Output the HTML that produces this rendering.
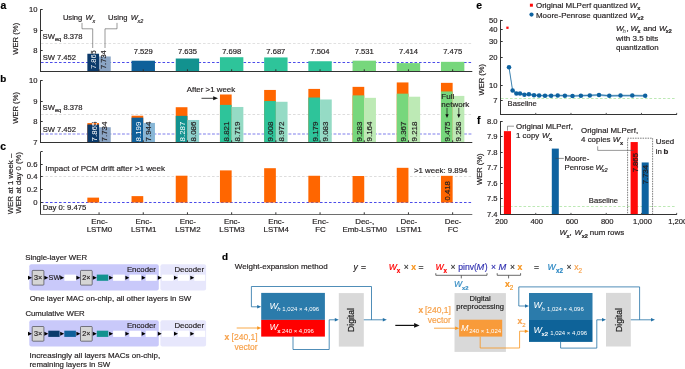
<!DOCTYPE html>
<html><head><meta charset="utf-8"><style>
html,body{margin:0;padding:0;background:#fff;}
svg{display:block;font-family:"Liberation Sans",sans-serif;will-change:transform;}
</style></head><body>
<svg width="685" height="369" viewBox="0 0 685 369">
<rect width="685" height="369" fill="#fff"/>
<text x="0.50" y="8.90" font-size="10.4" fill="#000" font-weight="bold" stroke="#000" stroke-width="0.18">a</text>
<line x1="41.00" y1="43.50" x2="472.30" y2="43.50" stroke="#d9d9d9" stroke-width="0.8" stroke-dasharray="2.6 1.9"/>
<line x1="41.00" y1="62.50" x2="472.30" y2="62.50" stroke="#3838e6" stroke-width="0.9" stroke-dasharray="2.6 1.9"/>
<rect x="87.35" y="53.75" width="11.70" height="17.75" fill="#0b3a6b"/>
<rect x="99.05" y="56.47" width="11.70" height="15.03" fill="#8ba5c5"/>
<rect x="131.55" y="60.72" width="23.40" height="10.78" fill="#0f609a"/>
<text x="143.25" y="54.30" font-size="7.6" fill="#231f20" text-anchor="middle" stroke="#231f20" stroke-width="0.18">7.529</text>
<rect x="175.75" y="58.52" width="23.40" height="12.98" fill="#12928f"/>
<text x="187.45" y="54.30" font-size="7.6" fill="#231f20" text-anchor="middle" stroke="#231f20" stroke-width="0.18">7.635</text>
<rect x="219.95" y="57.22" width="23.40" height="14.28" fill="#2ec49a"/>
<text x="231.65" y="54.30" font-size="7.6" fill="#231f20" text-anchor="middle" stroke="#231f20" stroke-width="0.18">7.698</text>
<rect x="264.15" y="57.44" width="23.40" height="14.06" fill="#2ec49a"/>
<text x="275.85" y="54.30" font-size="7.6" fill="#231f20" text-anchor="middle" stroke="#231f20" stroke-width="0.18">7.687</text>
<rect x="308.35" y="61.24" width="23.40" height="10.26" fill="#2ec49a"/>
<text x="320.05" y="54.30" font-size="7.6" fill="#231f20" text-anchor="middle" stroke="#231f20" stroke-width="0.18">7.504</text>
<rect x="352.55" y="60.68" width="23.40" height="10.82" fill="#77d77c"/>
<text x="364.25" y="54.30" font-size="7.6" fill="#231f20" text-anchor="middle" stroke="#231f20" stroke-width="0.18">7.531</text>
<rect x="396.75" y="63.11" width="23.40" height="8.39" fill="#77d77c"/>
<text x="408.45" y="54.30" font-size="7.6" fill="#231f20" text-anchor="middle" stroke="#231f20" stroke-width="0.18">7.414</text>
<rect x="440.95" y="61.84" width="23.40" height="9.66" fill="#77d77c"/>
<text x="452.65" y="54.30" font-size="7.6" fill="#231f20" text-anchor="middle" stroke="#231f20" stroke-width="0.18">7.475</text>
<clipPath id="c1"><rect x="87.35" y="53.75" width="11.70" height="17.75"/></clipPath>
<clipPath id="c1o"><rect x="82.35" y="23.75" width="21.70" height="30"/></clipPath>
<g clip-path="url(#c1o)">
<text x="95.65" y="69.10" font-size="7.55" fill="#231f20" transform="rotate(-90 95.65 69.10)" stroke="#231f20" stroke-width="0.18">7.865</text>
</g>
<g clip-path="url(#c1)">
<text x="95.65" y="69.10" font-size="7.55" fill="#fff" transform="rotate(-90 95.65 69.10)">7.865</text>
</g>
<text x="106.10" y="69.10" font-size="7.55" fill="#231f20" transform="rotate(-90 106.10 69.10)" stroke="#231f20" stroke-width="0.18">7.734</text>
<line x1="40.50" y1="9.20" x2="40.50" y2="72.00" stroke="#333333" stroke-width="1"/>
<line x1="40.00" y1="71.50" x2="472.30" y2="71.50" stroke="#333333" stroke-width="1"/>
<line x1="40.50" y1="9.50" x2="42.70" y2="9.50" stroke="#333333" stroke-width="1"/>
<text x="37.50" y="12.10" font-size="7.6" fill="#231f20" text-anchor="end" stroke="#231f20" stroke-width="0.18">10</text>
<line x1="40.50" y1="30.50" x2="42.70" y2="30.50" stroke="#333333" stroke-width="1"/>
<text x="37.50" y="33.10" font-size="7.6" fill="#231f20" text-anchor="end" stroke="#231f20" stroke-width="0.18">9</text>
<line x1="40.50" y1="50.50" x2="42.70" y2="50.50" stroke="#333333" stroke-width="1"/>
<text x="37.50" y="53.10" font-size="7.6" fill="#231f20" text-anchor="end" stroke="#231f20" stroke-width="0.18">8</text>
<line x1="99.05" y1="71.50" x2="99.05" y2="69.30" stroke="#333333" stroke-width="1"/>
<line x1="143.25" y1="71.50" x2="143.25" y2="69.30" stroke="#333333" stroke-width="1"/>
<line x1="187.45" y1="71.50" x2="187.45" y2="69.30" stroke="#333333" stroke-width="1"/>
<line x1="231.65" y1="71.50" x2="231.65" y2="69.30" stroke="#333333" stroke-width="1"/>
<line x1="275.85" y1="71.50" x2="275.85" y2="69.30" stroke="#333333" stroke-width="1"/>
<line x1="320.05" y1="71.50" x2="320.05" y2="69.30" stroke="#333333" stroke-width="1"/>
<line x1="364.25" y1="71.50" x2="364.25" y2="69.30" stroke="#333333" stroke-width="1"/>
<line x1="408.45" y1="71.50" x2="408.45" y2="69.30" stroke="#333333" stroke-width="1"/>
<line x1="452.65" y1="71.50" x2="452.65" y2="69.30" stroke="#333333" stroke-width="1"/>
<text x="18.20" y="38.80" font-size="7.7" fill="#231f20" text-anchor="middle" transform="rotate(-90 18.20 38.80)" stroke="#231f20" stroke-width="0.18">WER (%)</text>
<text x="42.60" y="39.20" font-size="7.6" fill="#231f20" stroke="#231f20" stroke-width="0.18">SW</text>
<text x="55.00" y="41.00" font-size="5.6" fill="#231f20" stroke="#231f20" stroke-width="0.18">eq</text>
<text x="63.50" y="39.20" font-size="7.6" fill="#231f20" stroke="#231f20" stroke-width="0.18">8.378</text>
<text x="42.70" y="59.60" font-size="7.6" fill="#231f20" stroke="#231f20" stroke-width="0.18">SW 7.452</text>
<text x="62.90" y="20.20" font-size="7.6" fill="#231f20" stroke="#231f20" stroke-width="0.18">Using</text>
<text x="85.40" y="20.20" font-size="7.6" fill="#231f20" font-style="italic" stroke="#231f20" stroke-width="0.18">W</text>
<text x="92.50" y="23.10" font-size="5.4" fill="#231f20" font-style="italic" stroke="#231f20" stroke-width="0.18">x</text>
<text x="108.00" y="20.20" font-size="7.6" fill="#231f20" stroke="#231f20" stroke-width="0.18">Using</text>
<text x="130.80" y="20.20" font-size="7.6" fill="#231f20" font-style="italic" stroke="#231f20" stroke-width="0.18">W</text>
<text x="137.60" y="23.10" font-size="5.4" fill="#231f20" font-style="italic" stroke="#231f20" stroke-width="0.18">x2</text>
<polyline points="82.00,22.90 82.00,28.80 92.70,28.80 92.70,48.00" stroke="#555" stroke-width="0.6" fill="none"/>
<polyline points="117.00,22.90 117.00,28.80 105.00,28.80 105.00,48.00" stroke="#555" stroke-width="0.6" fill="none"/>
<text x="0.30" y="82.10" font-size="9.9" fill="#000" font-weight="bold" stroke="#000" stroke-width="0.18">b</text>
<line x1="41.00" y1="114.50" x2="472.30" y2="114.50" stroke="#d9d9d9" stroke-width="0.9" stroke-dasharray="2.6 1.9"/>
<line x1="41.00" y1="134.00" x2="472.30" y2="134.00" stroke="#a9a9f2" stroke-width="1.5" stroke-dasharray="2.9 1.6"/>
<rect x="87.35" y="123.09" width="11.70" height="19.41" fill="#ff6600"/>
<rect x="87.35" y="124.52" width="11.70" height="17.98" fill="#0b3a6b"/>
<rect x="99.05" y="127.22" width="11.70" height="15.28" fill="#8ba5c5"/>
<rect x="131.55" y="115.73" width="11.70" height="26.77" fill="#ff6600"/>
<rect x="131.55" y="117.66" width="11.70" height="24.84" fill="#0f609a"/>
<rect x="143.25" y="122.90" width="11.70" height="19.60" fill="#88b7d7"/>
<rect x="175.75" y="107.22" width="11.70" height="35.28" fill="#ff6600"/>
<rect x="175.75" y="115.85" width="11.70" height="26.65" fill="#12928f"/>
<rect x="187.45" y="119.98" width="11.70" height="22.52" fill="#8ed1cd"/>
<rect x="219.95" y="94.50" width="11.70" height="48.00" fill="#ff6600"/>
<rect x="219.95" y="104.88" width="11.70" height="37.62" fill="#2ec49a"/>
<rect x="231.65" y="106.97" width="11.70" height="35.53" fill="#95dbc5"/>
<rect x="264.15" y="89.94" width="11.70" height="52.56" fill="#ff6600"/>
<rect x="264.15" y="101.04" width="11.70" height="41.46" fill="#2ec49a"/>
<rect x="275.85" y="101.78" width="11.70" height="40.72" fill="#95dbc5"/>
<rect x="308.35" y="88.91" width="11.70" height="53.59" fill="#ff6600"/>
<rect x="308.35" y="97.52" width="11.70" height="44.98" fill="#2ec49a"/>
<rect x="320.05" y="99.49" width="11.70" height="43.01" fill="#95dbc5"/>
<rect x="352.55" y="86.86" width="11.70" height="55.64" fill="#ff6600"/>
<rect x="352.55" y="95.38" width="11.70" height="47.12" fill="#77d77c"/>
<rect x="364.25" y="97.83" width="11.70" height="44.67" fill="#bdeab5"/>
<rect x="396.75" y="82.44" width="11.70" height="60.06" fill="#ff6600"/>
<rect x="396.75" y="93.66" width="11.70" height="48.84" fill="#77d77c"/>
<rect x="408.45" y="96.72" width="11.70" height="45.78" fill="#bdeab5"/>
<rect x="440.95" y="82.85" width="11.70" height="59.65" fill="#ff6600"/>
<rect x="440.95" y="91.44" width="11.70" height="51.06" fill="#77d77c"/>
<rect x="452.65" y="95.90" width="11.70" height="46.60" fill="#bdeab5"/>
<clipPath id="c2"><rect x="87.35" y="123.09" width="11.70" height="19.41"/></clipPath>
<clipPath id="c2o"><rect x="82.35" y="93.09" width="21.70" height="30"/></clipPath>
<g clip-path="url(#c2o)">
<text x="96.55" y="141.50" font-size="8.0" fill="#231f20" transform="rotate(-90 96.55 141.50)" stroke="#231f20" stroke-width="0.18">7.865</text>
</g>
<g clip-path="url(#c2)">
<text x="96.55" y="141.50" font-size="8.0" fill="#fff" transform="rotate(-90 96.55 141.50)">7.865</text>
</g>
<text x="107.15" y="141.50" font-size="8.0" fill="#231f20" transform="rotate(-90 107.15 141.50)" stroke="#231f20" stroke-width="0.18">7.734</text>
<clipPath id="c3"><rect x="131.55" y="115.73" width="11.70" height="26.77"/></clipPath>
<clipPath id="c3o"><rect x="126.55" y="85.73" width="21.70" height="30"/></clipPath>
<g clip-path="url(#c3o)">
<text x="140.75" y="141.50" font-size="8.0" fill="#231f20" transform="rotate(-90 140.75 141.50)" stroke="#231f20" stroke-width="0.18">8.199</text>
</g>
<g clip-path="url(#c3)">
<text x="140.75" y="141.50" font-size="8.0" fill="#fff" transform="rotate(-90 140.75 141.50)">8.199</text>
</g>
<text x="151.35" y="141.50" font-size="8.0" fill="#231f20" transform="rotate(-90 151.35 141.50)" stroke="#231f20" stroke-width="0.18">7.944</text>
<clipPath id="c4"><rect x="175.75" y="107.22" width="11.70" height="35.28"/></clipPath>
<clipPath id="c4o"><rect x="170.75" y="77.22" width="21.70" height="30"/></clipPath>
<g clip-path="url(#c4o)">
<text x="184.95" y="141.50" font-size="8.0" fill="#231f20" transform="rotate(-90 184.95 141.50)" stroke="#231f20" stroke-width="0.18">8.287</text>
</g>
<g clip-path="url(#c4)">
<text x="184.95" y="141.50" font-size="8.0" fill="#fff" transform="rotate(-90 184.95 141.50)">8.287</text>
</g>
<text x="195.55" y="141.50" font-size="8.0" fill="#231f20" transform="rotate(-90 195.55 141.50)" stroke="#231f20" stroke-width="0.18">8.086</text>
<text x="229.15" y="141.50" font-size="8.0" fill="#231f20" transform="rotate(-90 229.15 141.50)" stroke="#231f20" stroke-width="0.18">8.821</text>
<text x="239.75" y="141.50" font-size="8.0" fill="#231f20" transform="rotate(-90 239.75 141.50)" stroke="#231f20" stroke-width="0.18">8.719</text>
<text x="273.35" y="141.50" font-size="8.0" fill="#231f20" transform="rotate(-90 273.35 141.50)" stroke="#231f20" stroke-width="0.18">9.008</text>
<text x="283.95" y="141.50" font-size="8.0" fill="#231f20" transform="rotate(-90 283.95 141.50)" stroke="#231f20" stroke-width="0.18">8.972</text>
<text x="317.55" y="141.50" font-size="8.0" fill="#231f20" transform="rotate(-90 317.55 141.50)" stroke="#231f20" stroke-width="0.18">9.179</text>
<text x="328.15" y="141.50" font-size="8.0" fill="#231f20" transform="rotate(-90 328.15 141.50)" stroke="#231f20" stroke-width="0.18">9.083</text>
<text x="361.75" y="141.50" font-size="8.0" fill="#231f20" transform="rotate(-90 361.75 141.50)" stroke="#231f20" stroke-width="0.18">9.283</text>
<text x="372.35" y="141.50" font-size="8.0" fill="#231f20" transform="rotate(-90 372.35 141.50)" stroke="#231f20" stroke-width="0.18">9.164</text>
<text x="405.95" y="141.50" font-size="8.0" fill="#231f20" transform="rotate(-90 405.95 141.50)" stroke="#231f20" stroke-width="0.18">9.367</text>
<text x="416.55" y="141.50" font-size="8.0" fill="#231f20" transform="rotate(-90 416.55 141.50)" stroke="#231f20" stroke-width="0.18">9.218</text>
<text x="450.15" y="141.50" font-size="8.0" fill="#231f20" transform="rotate(-90 450.15 141.50)" stroke="#231f20" stroke-width="0.18">9.475</text>
<text x="460.75" y="141.50" font-size="8.0" fill="#231f20" transform="rotate(-90 460.75 141.50)" stroke="#231f20" stroke-width="0.18">9.258</text>
<line x1="40.50" y1="80.20" x2="40.50" y2="143.00" stroke="#333333" stroke-width="1"/>
<line x1="40.00" y1="142.50" x2="472.30" y2="142.50" stroke="#333333" stroke-width="1"/>
<line x1="40.50" y1="80.50" x2="42.70" y2="80.50" stroke="#333333" stroke-width="1"/>
<text x="37.50" y="83.10" font-size="7.6" fill="#231f20" text-anchor="end" stroke="#231f20" stroke-width="0.18">10</text>
<line x1="40.50" y1="101.50" x2="42.70" y2="101.50" stroke="#333333" stroke-width="1"/>
<text x="37.50" y="104.10" font-size="7.6" fill="#231f20" text-anchor="end" stroke="#231f20" stroke-width="0.18">9</text>
<line x1="40.50" y1="121.50" x2="42.70" y2="121.50" stroke="#333333" stroke-width="1"/>
<text x="37.50" y="124.10" font-size="7.6" fill="#231f20" text-anchor="end" stroke="#231f20" stroke-width="0.18">8</text>
<line x1="40.50" y1="142.50" x2="42.70" y2="142.50" stroke="#333333" stroke-width="1"/>
<text x="37.50" y="145.10" font-size="7.6" fill="#231f20" text-anchor="end" stroke="#231f20" stroke-width="0.18">7</text>
<line x1="99.05" y1="142.50" x2="99.05" y2="140.30" stroke="#333333" stroke-width="1"/>
<line x1="143.25" y1="142.50" x2="143.25" y2="140.30" stroke="#333333" stroke-width="1"/>
<line x1="187.45" y1="142.50" x2="187.45" y2="140.30" stroke="#333333" stroke-width="1"/>
<line x1="231.65" y1="142.50" x2="231.65" y2="140.30" stroke="#333333" stroke-width="1"/>
<line x1="275.85" y1="142.50" x2="275.85" y2="140.30" stroke="#333333" stroke-width="1"/>
<line x1="320.05" y1="142.50" x2="320.05" y2="140.30" stroke="#333333" stroke-width="1"/>
<line x1="364.25" y1="142.50" x2="364.25" y2="140.30" stroke="#333333" stroke-width="1"/>
<line x1="408.45" y1="142.50" x2="408.45" y2="140.30" stroke="#333333" stroke-width="1"/>
<line x1="452.65" y1="142.50" x2="452.65" y2="140.30" stroke="#333333" stroke-width="1"/>
<text x="17.90" y="107.90" font-size="7.6" fill="#231f20" text-anchor="middle" transform="rotate(-90 17.90 107.90)" stroke="#231f20" stroke-width="0.18">WER (%)</text>
<text x="42.60" y="110.10" font-size="7.6" fill="#231f20" stroke="#231f20" stroke-width="0.18">SW</text>
<text x="55.00" y="111.90" font-size="5.6" fill="#231f20" stroke="#231f20" stroke-width="0.18">eq</text>
<text x="63.50" y="110.10" font-size="7.6" fill="#231f20" stroke="#231f20" stroke-width="0.18">8.378</text>
<text x="42.70" y="131.60" font-size="7.6" fill="#231f20" stroke="#231f20" stroke-width="0.18">SW 7.452</text>
<text x="186.70" y="91.60" font-size="7.9" fill="#231f20" stroke="#231f20" stroke-width="0.18">After &gt;1 week</text>
<line x1="201.50" y1="98.30" x2="214.50" y2="98.30" stroke="#111" stroke-width="0.8"/>
<path d="M218,98.3 L213.2,96.3 L213.2,100.3 Z" fill="#111"/>
<text x="441.30" y="98.60" font-size="8.0" fill="#231f20" stroke="#231f20" stroke-width="0.18">Full</text>
<text x="441.30" y="106.50" font-size="8.0" fill="#231f20" stroke="#231f20" stroke-width="0.18">network</text>
<line x1="447.00" y1="107.80" x2="447.00" y2="115.00" stroke="#111" stroke-width="0.7"/>
<path d="M447,118 L445.3,114.3 L448.7,114.3 Z" fill="#111"/>
<line x1="458.80" y1="107.80" x2="458.80" y2="115.00" stroke="#111" stroke-width="0.7"/>
<path d="M458.8,118 L457.1,114.3 L460.5,114.3 Z" fill="#111"/>
<text x="0.30" y="149.80" font-size="10.4" fill="#000" font-weight="bold" stroke="#000" stroke-width="0.18">c</text>
<line x1="41.00" y1="176.50" x2="472.30" y2="176.50" stroke="#d9d9d9" stroke-width="0.9" stroke-dasharray="2.6 1.9"/>
<line x1="41.00" y1="202.50" x2="472.30" y2="202.50" stroke="#3838e6" stroke-width="0.9" stroke-dasharray="2.6 1.9"/>
<rect x="87.35" y="197.62" width="11.70" height="4.88" fill="#ff6600"/>
<rect x="131.55" y="196.12" width="11.70" height="6.38" fill="#ff6600"/>
<rect x="175.75" y="175.71" width="11.70" height="26.79" fill="#ff6600"/>
<rect x="219.95" y="170.39" width="11.70" height="32.11" fill="#ff6600"/>
<rect x="264.15" y="168.20" width="11.70" height="34.30" fill="#ff6600"/>
<rect x="308.35" y="175.77" width="11.70" height="26.73" fill="#ff6600"/>
<rect x="352.55" y="176.02" width="11.70" height="26.48" fill="#ff6600"/>
<rect x="396.75" y="167.82" width="11.70" height="34.68" fill="#ff6600"/>
<rect x="440.95" y="175.83" width="11.70" height="26.67" fill="#ff6600"/>
<text x="449.75" y="200.40" font-size="7.7" fill="#231f20" transform="rotate(-90 449.75 200.40)" stroke="#231f20" stroke-width="0.18">0.418</text>
<line x1="40.50" y1="151.90" x2="40.50" y2="215.00" stroke="#333333" stroke-width="1"/>
<line x1="40.00" y1="214.50" x2="472.30" y2="214.50" stroke="#6e6e6e" stroke-width="1.1"/>
<line x1="40.50" y1="151.50" x2="42.70" y2="151.50" stroke="#333333" stroke-width="1"/>
<line x1="40.50" y1="164.50" x2="42.70" y2="164.50" stroke="#333333" stroke-width="1"/>
<line x1="40.50" y1="176.50" x2="42.70" y2="176.50" stroke="#333333" stroke-width="1"/>
<line x1="40.50" y1="189.50" x2="42.70" y2="189.50" stroke="#333333" stroke-width="1"/>
<line x1="40.50" y1="202.50" x2="42.70" y2="202.50" stroke="#333333" stroke-width="1"/>
<text x="37.50" y="167.10" font-size="7.7" fill="#231f20" text-anchor="end" stroke="#231f20" stroke-width="0.18">0.6</text>
<text x="37.50" y="179.10" font-size="7.7" fill="#231f20" text-anchor="end" stroke="#231f20" stroke-width="0.18">0.4</text>
<text x="37.50" y="192.10" font-size="7.7" fill="#231f20" text-anchor="end" stroke="#231f20" stroke-width="0.18">0.2</text>
<text x="37.50" y="205.10" font-size="7.7" fill="#231f20" text-anchor="end" stroke="#231f20" stroke-width="0.18">0</text>
<line x1="99.05" y1="214.50" x2="99.05" y2="212.30" stroke="#333333" stroke-width="1"/>
<line x1="143.25" y1="214.50" x2="143.25" y2="212.30" stroke="#333333" stroke-width="1"/>
<line x1="187.45" y1="214.50" x2="187.45" y2="212.30" stroke="#333333" stroke-width="1"/>
<line x1="231.65" y1="214.50" x2="231.65" y2="212.30" stroke="#333333" stroke-width="1"/>
<line x1="275.85" y1="214.50" x2="275.85" y2="212.30" stroke="#333333" stroke-width="1"/>
<line x1="320.05" y1="214.50" x2="320.05" y2="212.30" stroke="#333333" stroke-width="1"/>
<line x1="364.25" y1="214.50" x2="364.25" y2="212.30" stroke="#333333" stroke-width="1"/>
<line x1="408.45" y1="214.50" x2="408.45" y2="212.30" stroke="#333333" stroke-width="1"/>
<line x1="452.65" y1="214.50" x2="452.65" y2="212.30" stroke="#333333" stroke-width="1"/>
<text x="12.60" y="184.00" font-size="7.85" fill="#231f20" text-anchor="middle" transform="rotate(-90 12.60 184.00)" stroke="#231f20" stroke-width="0.18">WER at 1 week –</text>
<text x="21.20" y="182.80" font-size="7.7" fill="#231f20" text-anchor="middle" transform="rotate(-90 21.20 182.80)" stroke="#231f20" stroke-width="0.18">WER at day 0 (%)</text>
<text x="45.30" y="170.90" font-size="8.05" fill="#231f20" stroke="#231f20" stroke-width="0.18">Impact of PCM drift after &gt;1 week</text>
<text x="42.70" y="210.20" font-size="7.7" fill="#231f20" stroke="#231f20" stroke-width="0.18">Day 0: 9.475</text>
<text x="414.00" y="173.00" font-size="7.85" fill="#231f20" stroke="#231f20" stroke-width="0.18">&gt;1 week: 9.894</text>
<text x="99.45" y="224.20" font-size="7.9" fill="#231f20" text-anchor="middle" stroke="#231f20" stroke-width="0.18">Enc-</text>
<text x="99.45" y="232.00" font-size="7.9" fill="#231f20" text-anchor="middle" stroke="#231f20" stroke-width="0.18">LSTM0</text>
<text x="143.65" y="224.20" font-size="7.9" fill="#231f20" text-anchor="middle" stroke="#231f20" stroke-width="0.18">Enc-</text>
<text x="143.65" y="232.00" font-size="7.9" fill="#231f20" text-anchor="middle" stroke="#231f20" stroke-width="0.18">LSTM1</text>
<text x="187.85" y="224.20" font-size="7.9" fill="#231f20" text-anchor="middle" stroke="#231f20" stroke-width="0.18">Enc-</text>
<text x="187.85" y="232.00" font-size="7.9" fill="#231f20" text-anchor="middle" stroke="#231f20" stroke-width="0.18">LSTM2</text>
<text x="232.05" y="224.20" font-size="7.9" fill="#231f20" text-anchor="middle" stroke="#231f20" stroke-width="0.18">Enc-</text>
<text x="232.05" y="232.00" font-size="7.9" fill="#231f20" text-anchor="middle" stroke="#231f20" stroke-width="0.18">LSTM3</text>
<text x="276.25" y="224.20" font-size="7.9" fill="#231f20" text-anchor="middle" stroke="#231f20" stroke-width="0.18">Enc-</text>
<text x="276.25" y="232.00" font-size="7.9" fill="#231f20" text-anchor="middle" stroke="#231f20" stroke-width="0.18">LSTM4</text>
<text x="320.45" y="224.20" font-size="7.9" fill="#231f20" text-anchor="middle" stroke="#231f20" stroke-width="0.18">Enc-</text>
<text x="320.45" y="232.00" font-size="7.9" fill="#231f20" text-anchor="middle" stroke="#231f20" stroke-width="0.18">FC</text>
<text x="364.65" y="224.20" font-size="7.9" fill="#231f20" text-anchor="middle" stroke="#231f20" stroke-width="0.18">Dec-,</text>
<text x="364.65" y="232.00" font-size="7.9" fill="#231f20" text-anchor="middle" stroke="#231f20" stroke-width="0.18">Emb-LSTM0</text>
<text x="408.85" y="224.20" font-size="7.9" fill="#231f20" text-anchor="middle" stroke="#231f20" stroke-width="0.18">Dec-</text>
<text x="408.85" y="232.00" font-size="7.9" fill="#231f20" text-anchor="middle" stroke="#231f20" stroke-width="0.18">LSTM1</text>
<text x="453.05" y="224.20" font-size="7.9" fill="#231f20" text-anchor="middle" stroke="#231f20" stroke-width="0.18">Dec-</text>
<text x="453.05" y="232.00" font-size="7.9" fill="#231f20" text-anchor="middle" stroke="#231f20" stroke-width="0.18">FC</text>
<text x="476.20" y="8.70" font-size="10.4" fill="#000" font-weight="bold" stroke="#000" stroke-width="0.18">e</text>
<line x1="501.00" y1="98.50" x2="676.50" y2="98.50" stroke="#b5e6ad" stroke-width="0.9" stroke-dasharray="2.6 1.9"/>
<line x1="500.50" y1="19.80" x2="500.50" y2="115.00" stroke="#333333" stroke-width="1"/>
<line x1="500.00" y1="114.50" x2="677.00" y2="114.50" stroke="#333333" stroke-width="1"/>
<line x1="500.50" y1="20.50" x2="502.70" y2="20.50" stroke="#333333" stroke-width="1"/>
<text x="497.50" y="23.10" font-size="7.6" fill="#231f20" text-anchor="end" stroke="#231f20" stroke-width="0.18">50</text>
<line x1="500.50" y1="29.50" x2="502.70" y2="29.50" stroke="#333333" stroke-width="1"/>
<text x="497.50" y="32.10" font-size="7.6" fill="#231f20" text-anchor="end" stroke="#231f20" stroke-width="0.18">40</text>
<line x1="500.50" y1="41.50" x2="502.70" y2="41.50" stroke="#333333" stroke-width="1"/>
<text x="497.50" y="44.10" font-size="7.6" fill="#231f20" text-anchor="end" stroke="#231f20" stroke-width="0.18">30</text>
<line x1="500.50" y1="57.50" x2="502.70" y2="57.50" stroke="#333333" stroke-width="1"/>
<text x="497.50" y="60.10" font-size="7.6" fill="#231f20" text-anchor="end" stroke="#231f20" stroke-width="0.18">20</text>
<line x1="500.50" y1="85.50" x2="502.70" y2="85.50" stroke="#333333" stroke-width="1"/>
<text x="497.50" y="88.10" font-size="7.6" fill="#231f20" text-anchor="end" stroke="#231f20" stroke-width="0.18">10</text>
<line x1="500.50" y1="100.50" x2="502.70" y2="100.50" stroke="#333333" stroke-width="1"/>
<text x="497.50" y="103.10" font-size="7.6" fill="#231f20" text-anchor="end" stroke="#231f20" stroke-width="0.18">7</text>
<line x1="535.74" y1="114.50" x2="535.74" y2="112.90" stroke="#555" stroke-width="1"/>
<line x1="570.98" y1="114.50" x2="570.98" y2="112.90" stroke="#555" stroke-width="1"/>
<line x1="606.22" y1="114.50" x2="606.22" y2="112.90" stroke="#555" stroke-width="1"/>
<line x1="641.46" y1="114.50" x2="641.46" y2="112.90" stroke="#555" stroke-width="1"/>
<line x1="676.70" y1="114.50" x2="676.70" y2="112.90" stroke="#555" stroke-width="1"/>
<text x="484.20" y="79.70" font-size="7.6" fill="#231f20" text-anchor="middle" transform="rotate(-90 484.20 79.70)" stroke="#231f20" stroke-width="0.18">WER (%)</text>
<polygon points="509.00,66.20 512.60,89.30 516.40,92.30 520.00,92.30 524.40,93.60 528.90,93.10 534.00,94.10 539.10,94.40 545.00,94.60 551.10,94.60 557.70,94.40 564.90,94.60 572.50,94.90 580.90,94.60 589.80,94.30 599.00,93.80 609.30,94.70 620.50,94.50 632.30,94.50 645.20,94.70 645.20,96.90 632.30,96.70 620.50,96.70 609.30,96.90 599.00,96.00 589.80,96.50 580.90,96.80 572.50,97.10 564.90,96.80 557.70,96.60 551.10,96.80 545.00,96.80 539.10,96.60 534.00,96.30 528.90,95.30 524.40,95.80 520.00,94.50 516.40,94.50 512.60,91.50 509.00,68.40" fill="#a9cbe2"/>
<polyline points="509.00,67.30 512.60,90.40 516.40,93.40 520.00,93.40 524.40,94.70 528.90,94.20 534.00,95.20 539.10,95.50 545.00,95.70 551.10,95.70 557.70,95.50 564.90,95.70 572.50,96.00 580.90,95.70 589.80,95.40 599.00,94.90 609.30,95.80 620.50,95.60 632.30,95.60 645.20,95.80" stroke="#1a6aa0" stroke-width="0.8" fill="none"/>
<circle cx="509.00" cy="67.30" r="2.25" fill="#0d62a0"/>
<circle cx="512.60" cy="90.40" r="2.25" fill="#0d62a0"/>
<circle cx="516.40" cy="93.40" r="2.25" fill="#0d62a0"/>
<circle cx="520.00" cy="93.40" r="2.25" fill="#0d62a0"/>
<circle cx="524.40" cy="94.70" r="2.25" fill="#0d62a0"/>
<circle cx="528.90" cy="94.20" r="2.25" fill="#0d62a0"/>
<circle cx="534.00" cy="95.20" r="2.25" fill="#0d62a0"/>
<circle cx="539.10" cy="95.50" r="2.25" fill="#0d62a0"/>
<circle cx="545.00" cy="95.70" r="2.25" fill="#0d62a0"/>
<circle cx="551.10" cy="95.70" r="2.25" fill="#0d62a0"/>
<circle cx="557.70" cy="95.50" r="2.25" fill="#0d62a0"/>
<circle cx="564.90" cy="95.70" r="2.25" fill="#0d62a0"/>
<circle cx="572.50" cy="96.00" r="2.25" fill="#0d62a0"/>
<circle cx="580.90" cy="95.70" r="2.25" fill="#0d62a0"/>
<circle cx="589.80" cy="95.40" r="2.25" fill="#0d62a0"/>
<circle cx="599.00" cy="94.90" r="2.25" fill="#0d62a0"/>
<circle cx="609.30" cy="95.80" r="2.25" fill="#0d62a0"/>
<circle cx="620.50" cy="95.60" r="2.25" fill="#0d62a0"/>
<circle cx="632.30" cy="95.60" r="2.25" fill="#0d62a0"/>
<circle cx="645.20" cy="95.80" r="2.25" fill="#0d62a0"/>
<rect x="506.30" y="26.60" width="2.30" height="2.30" fill="#ff0a0a"/>
<rect x="529.90" y="3.70" width="3.00" height="3.00" fill="#ff0a0a"/>
<text x="536.00" y="7.75" font-size="7.95" fill="#231f20" stroke="#231f20" stroke-width="0.18">Original MLPerf quantized</text>
<text x="629.80" y="7.75" font-size="7.95" fill="#231f20" font-style="italic" stroke="#231f20" stroke-width="0.18">W</text>
<text x="637.30" y="9.65" font-size="5.6" fill="#231f20" font-weight="bold" stroke="#231f20" stroke-width="0.18">x</text>
<circle cx="531.5" cy="14.6" r="2.1" fill="#0d62a0"/>
<text x="536.00" y="17.60" font-size="7.95" fill="#231f20" stroke="#231f20" stroke-width="0.18">Moore-Penrose quantized</text>
<text x="629.80" y="17.60" font-size="7.95" fill="#231f20" font-style="italic" stroke="#231f20" stroke-width="0.18">W</text>
<text x="637.30" y="19.60" font-size="5.6" fill="#231f20" font-weight="bold" stroke="#231f20" stroke-width="0.18">x2</text>
<text x="616.10" y="31.20" font-size="8" fill="#231f20" font-style="italic" stroke="#231f20" stroke-width="0.18">W</text>
<text x="622.70" y="33.00" font-size="5.6" fill="#777" font-style="italic" stroke="#777" stroke-width="0.18">h</text>
<text x="626.40" y="31.20" font-size="8" fill="#231f20" stroke="#231f20" stroke-width="0.18">,</text>
<text x="630.40" y="31.20" font-size="8" fill="#231f20" font-style="italic" stroke="#231f20" stroke-width="0.18">W</text>
<text x="637.50" y="33.20" font-size="5.4" fill="#231f20" font-weight="bold" stroke="#231f20" stroke-width="0.18">x</text>
<text x="643.20" y="31.20" font-size="8" fill="#231f20" stroke="#231f20" stroke-width="0.18">and</text>
<text x="659.00" y="31.20" font-size="8" fill="#231f20" font-style="italic" stroke="#231f20" stroke-width="0.18">W</text>
<text x="665.70" y="33.20" font-size="5.4" fill="#231f20" font-weight="bold" stroke="#231f20" stroke-width="0.18">x2</text>
<text x="616.10" y="41.20" font-size="8.0" fill="#231f20" stroke="#231f20" stroke-width="0.18">with 3.5 bits</text>
<text x="616.10" y="49.80" font-size="7.9" fill="#231f20" stroke="#231f20" stroke-width="0.18">quantization</text>
<text x="507.60" y="106.20" font-size="7.6" fill="#231f20" stroke="#231f20" stroke-width="0.18">Baseline</text>
<text x="476.90" y="123.50" font-size="10.4" fill="#000" font-weight="bold" stroke="#000" stroke-width="0.18">f</text>
<line x1="501.00" y1="206.50" x2="676.50" y2="206.50" stroke="#b5e6ad" stroke-width="0.9" stroke-dasharray="2.6 1.9"/>
<rect x="503.90" y="131.15" width="7.10" height="83.35" fill="#ff0a0a"/>
<rect x="551.80" y="148.60" width="7.00" height="65.90" fill="#0d62a0"/>
<rect x="630.60" y="142.05" width="7.20" height="72.45" fill="#ff0a0a"/>
<rect x="641.70" y="162.46" width="7.00" height="52.04" fill="#0d62a0"/>
<rect x="627.6" y="138.2" width="25" height="76.3" fill="none" stroke="#222" stroke-width="0.6" stroke-dasharray="1.5 1"/>
<text x="637.95" y="172.30" font-size="7.7" fill="#231f20" transform="rotate(-90 637.95 172.30)" stroke="#231f20" stroke-width="0.18">7.865</text>
<text x="648.35" y="184.20" font-size="7.7" fill="#231f20" transform="rotate(-90 648.35 184.20)" stroke="#231f20" stroke-width="0.18">7.734</text>
<line x1="500.50" y1="121.00" x2="500.50" y2="215.00" stroke="#333333" stroke-width="1"/>
<line x1="500.00" y1="214.50" x2="677.00" y2="214.50" stroke="#333333" stroke-width="1"/>
<line x1="500.50" y1="121.50" x2="502.70" y2="121.50" stroke="#333333" stroke-width="1"/>
<text x="497.50" y="124.10" font-size="7.6" fill="#231f20" text-anchor="end" stroke="#231f20" stroke-width="0.18">8.0</text>
<line x1="500.50" y1="136.50" x2="502.70" y2="136.50" stroke="#333333" stroke-width="1"/>
<text x="497.50" y="139.10" font-size="7.6" fill="#231f20" text-anchor="end" stroke="#231f20" stroke-width="0.18">7.9</text>
<line x1="500.50" y1="152.50" x2="502.70" y2="152.50" stroke="#333333" stroke-width="1"/>
<text x="497.50" y="155.10" font-size="7.6" fill="#231f20" text-anchor="end" stroke="#231f20" stroke-width="0.18">7.8</text>
<line x1="500.50" y1="167.50" x2="502.70" y2="167.50" stroke="#333333" stroke-width="1"/>
<text x="497.50" y="170.10" font-size="7.6" fill="#231f20" text-anchor="end" stroke="#231f20" stroke-width="0.18">7.7</text>
<line x1="500.50" y1="183.50" x2="502.70" y2="183.50" stroke="#333333" stroke-width="1"/>
<text x="497.50" y="186.10" font-size="7.6" fill="#231f20" text-anchor="end" stroke="#231f20" stroke-width="0.18">7.6</text>
<line x1="500.50" y1="198.50" x2="502.70" y2="198.50" stroke="#333333" stroke-width="1"/>
<text x="497.50" y="201.10" font-size="7.6" fill="#231f20" text-anchor="end" stroke="#231f20" stroke-width="0.18">7.5</text>
<line x1="500.50" y1="214.50" x2="502.70" y2="214.50" stroke="#333333" stroke-width="1"/>
<text x="497.50" y="217.10" font-size="7.6" fill="#231f20" text-anchor="end" stroke="#231f20" stroke-width="0.18">7.4</text>
<text x="501.50" y="224.20" font-size="7.6" fill="#231f20" text-anchor="middle" stroke="#231f20" stroke-width="0.18">200</text>
<line x1="535.74" y1="214.50" x2="535.74" y2="212.90" stroke="#555" stroke-width="1"/>
<text x="536.74" y="224.20" font-size="7.6" fill="#231f20" text-anchor="middle" stroke="#231f20" stroke-width="0.18">400</text>
<line x1="570.98" y1="214.50" x2="570.98" y2="212.90" stroke="#555" stroke-width="1"/>
<text x="571.98" y="224.20" font-size="7.6" fill="#231f20" text-anchor="middle" stroke="#231f20" stroke-width="0.18">600</text>
<line x1="606.22" y1="214.50" x2="606.22" y2="212.90" stroke="#555" stroke-width="1"/>
<text x="607.22" y="224.20" font-size="7.6" fill="#231f20" text-anchor="middle" stroke="#231f20" stroke-width="0.18">800</text>
<line x1="641.46" y1="214.50" x2="641.46" y2="212.90" stroke="#555" stroke-width="1"/>
<text x="642.46" y="224.20" font-size="7.6" fill="#231f20" text-anchor="middle" stroke="#231f20" stroke-width="0.18">1,000</text>
<line x1="676.70" y1="214.50" x2="676.70" y2="212.90" stroke="#555" stroke-width="1"/>
<text x="677.70" y="224.20" font-size="7.6" fill="#231f20" text-anchor="middle" stroke="#231f20" stroke-width="0.18">1,200</text>
<text x="482.10" y="169.20" font-size="7.6" fill="#231f20" text-anchor="middle" transform="rotate(-90 482.10 169.20)" stroke="#231f20" stroke-width="0.18">WER (%)</text>
<polyline points="507.50,130.70 507.50,126.20 514.00,126.20" stroke="#555" stroke-width="0.6" fill="none"/>
<text x="516.00" y="129.20" font-size="7.9" fill="#231f20" stroke="#231f20" stroke-width="0.18">Original MLPerf,</text>
<text x="516.00" y="138.40" font-size="7.9" fill="#231f20" stroke="#231f20" stroke-width="0.18">1 copy</text>
<text x="541.90" y="138.40" font-size="7.9" fill="#231f20" font-style="italic" stroke="#231f20" stroke-width="0.18">W</text>
<text x="549.10" y="141.40" font-size="5.6" fill="#231f20" font-weight="bold" stroke="#231f20" stroke-width="0.18">x</text>
<line x1="555.50" y1="158.40" x2="563.80" y2="158.40" stroke="#444" stroke-width="0.6"/>
<text x="564.40" y="161.10" font-size="7.9" fill="#231f20" stroke="#231f20" stroke-width="0.18">Moore-</text>
<text x="564.40" y="169.80" font-size="7.9" fill="#231f20" stroke="#231f20" stroke-width="0.18">Penrose</text>
<text x="595.40" y="169.80" font-size="7.9" fill="#231f20" font-style="italic" stroke="#231f20" stroke-width="0.18">W</text>
<text x="601.80" y="172.20" font-size="5.6" fill="#231f20" font-style="italic" stroke="#231f20" stroke-width="0.18">x2</text>
<text x="581.10" y="132.90" font-size="7.9" fill="#231f20" stroke="#231f20" stroke-width="0.18">Original MLPerf,</text>
<text x="581.10" y="142.10" font-size="7.9" fill="#231f20" stroke="#231f20" stroke-width="0.18">4 copies</text>
<text x="612.80" y="142.10" font-size="7.9" fill="#231f20" font-style="italic" stroke="#231f20" stroke-width="0.18">W</text>
<text x="620.00" y="145.10" font-size="5.6" fill="#231f20" font-weight="bold" stroke="#231f20" stroke-width="0.18">x</text>
<polyline points="597.70,146.30 597.70,150.40 634.00,150.40" stroke="#555" stroke-width="0.6" fill="none"/>
<text x="655.80" y="144.40" font-size="7.9" fill="#231f20" stroke="#231f20" stroke-width="0.18">Used</text>
<text x="655.80" y="153.50" font-size="7.9" fill="#231f20" stroke="#231f20" stroke-width="0.18">in</text>
<text x="663.50" y="153.50" font-size="7.9" fill="#231f20" font-weight="bold" stroke="#231f20" stroke-width="0.18">b</text>
<text x="588.80" y="203.30" font-size="7.65" fill="#231f20" stroke="#231f20" stroke-width="0.18">Baseline</text>
<text x="559.60" y="235.30" font-size="7.95" fill="#231f20" font-style="italic" stroke="#231f20" stroke-width="0.18">W</text>
<text x="566.60" y="237.50" font-size="5.6" fill="#231f20" font-weight="bold" stroke="#231f20" stroke-width="0.18">x</text>
<text x="569.60" y="235.30" font-size="7.95" fill="#231f20" stroke="#231f20" stroke-width="0.18">,</text>
<text x="574.40" y="235.30" font-size="7.95" fill="#231f20" font-style="italic" stroke="#231f20" stroke-width="0.18">W</text>
<text x="581.70" y="237.50" font-size="5.6" fill="#231f20" font-weight="bold" stroke="#231f20" stroke-width="0.18">x2</text>
<text x="589.80" y="235.30" font-size="7.95" fill="#231f20" stroke="#231f20" stroke-width="0.18">num rows</text>
<text x="25.20" y="259.80" font-size="7.85" fill="#231f20" stroke="#231f20" stroke-width="0.18">Single-layer WER</text>
<rect x="29.3" y="264.20" width="129.5" height="26.3" rx="2" fill="#c9c9fa"/>
<rect x="160.4" y="264.20" width="45.7" height="26.3" rx="2" fill="#e7e7fc"/>
<text x="126.90" y="272.30" font-size="7.8" fill="#231f20" stroke="#231f20" stroke-width="0.18">Encoder</text>
<text x="174.40" y="272.30" font-size="7.85" fill="#231f20" stroke="#231f20" stroke-width="0.18">Decoder</text>
<path d="M32.00,277.70 L28.00,275.70 L28.00,279.70 Z" fill="#000"/>
<rect x="32.20" y="270.40" width="11.7" height="14.7" rx="0.8" fill="#d5d5d5" stroke="#333" stroke-width="0.6"/>
<text x="38.05" y="280.30" font-size="7.2" fill="#231f20" text-anchor="middle" stroke="#231f20" stroke-width="0.18">3×</text>
<path d="M48.30,277.70 L44.30,275.70 L44.30,279.70 Z" fill="#000"/>
<text x="48.60" y="280.30" font-size="7.2" fill="#231f20" stroke="#231f20" stroke-width="0.18">SW</text>
<path d="M64.20,277.70 L60.20,275.70 L60.20,279.70 Z" fill="#000"/>
<rect x="64.40" y="274.60" width="11.70" height="6.20" fill="#fff"/>
<path d="M80.40,277.70 L76.40,275.70 L76.40,279.70 Z" fill="#000"/>
<rect x="80.50" y="270.40" width="11.7" height="14.7" rx="0.8" fill="#d5d5d5" stroke="#333" stroke-width="0.6"/>
<text x="86.35" y="280.30" font-size="7.2" fill="#231f20" text-anchor="middle" stroke="#231f20" stroke-width="0.18">2×</text>
<path d="M96.80,277.70 L92.80,275.70 L92.80,279.70 Z" fill="#000"/>
<rect x="96.80" y="274.60" width="11.50" height="6.20" fill="#12928f"/>
<path d="M113.10,277.70 L109.10,275.70 L109.10,279.70 Z" fill="#000"/>
<rect x="113.10" y="274.60" width="11.70" height="6.20" fill="#fff"/>
<path d="M129.40,277.70 L125.40,275.70 L125.40,279.70 Z" fill="#000"/>
<rect x="129.40" y="274.60" width="11.70" height="6.20" fill="#fff"/>
<path d="M145.70,277.70 L141.70,275.70 L141.70,279.70 Z" fill="#000"/>
<rect x="145.70" y="274.60" width="11.10" height="6.20" fill="#fff"/>
<path d="M161.80,277.70 L157.80,275.70 L157.80,279.70 Z" fill="#000"/>
<rect x="161.80" y="274.60" width="11.40" height="6.20" fill="#fff"/>
<path d="M178.00,277.70 L174.00,275.70 L174.00,279.70 Z" fill="#000"/>
<rect x="178.00" y="274.60" width="11.30" height="6.20" fill="#fff"/>
<path d="M194.30,277.70 L190.30,275.70 L190.30,279.70 Z" fill="#000"/>
<rect x="194.30" y="274.60" width="10.90" height="6.20" fill="#fff"/>
<text x="29.70" y="300.90" font-size="7.93" fill="#231f20" stroke="#231f20" stroke-width="0.18">One layer MAC on-chip, all other layers in SW</text>
<text x="25.40" y="315.70" font-size="7.8" fill="#231f20" stroke="#231f20" stroke-width="0.18">Cumulative WER</text>
<rect x="29.3" y="320.30" width="129.5" height="26.3" rx="2" fill="#c9c9fa"/>
<rect x="160.4" y="320.30" width="45.7" height="26.3" rx="2" fill="#e7e7fc"/>
<text x="126.90" y="328.40" font-size="7.8" fill="#231f20" stroke="#231f20" stroke-width="0.18">Encoder</text>
<text x="174.40" y="328.40" font-size="7.85" fill="#231f20" stroke="#231f20" stroke-width="0.18">Decoder</text>
<path d="M32.00,333.80 L28.00,331.80 L28.00,335.80 Z" fill="#000"/>
<rect x="32.20" y="326.50" width="11.7" height="14.7" rx="0.8" fill="#d5d5d5" stroke="#333" stroke-width="0.6"/>
<text x="38.05" y="336.40" font-size="7.2" fill="#231f20" text-anchor="middle" stroke="#231f20" stroke-width="0.18">3×</text>
<path d="M48.30,333.80 L44.30,331.80 L44.30,335.80 Z" fill="#000"/>
<rect x="48.30" y="330.70" width="11.30" height="6.20" fill="#0b3a6b"/>
<path d="M64.20,333.80 L60.20,331.80 L60.20,335.80 Z" fill="#000"/>
<rect x="64.30" y="330.70" width="11.60" height="6.20" fill="#0f609a"/>
<path d="M80.40,333.80 L76.40,331.80 L76.40,335.80 Z" fill="#000"/>
<rect x="80.50" y="326.50" width="11.7" height="14.7" rx="0.8" fill="#d5d5d5" stroke="#333" stroke-width="0.6"/>
<text x="86.35" y="336.40" font-size="7.2" fill="#231f20" text-anchor="middle" stroke="#231f20" stroke-width="0.18">2×</text>
<path d="M96.80,333.80 L92.80,331.80 L92.80,335.80 Z" fill="#000"/>
<rect x="96.80" y="330.70" width="11.50" height="6.20" fill="#12928f"/>
<path d="M113.10,333.80 L109.10,331.80 L109.10,335.80 Z" fill="#000"/>
<rect x="113.10" y="330.70" width="11.70" height="6.20" fill="#fff"/>
<path d="M129.40,333.80 L125.40,331.80 L125.40,335.80 Z" fill="#000"/>
<rect x="129.40" y="330.70" width="11.70" height="6.20" fill="#fff"/>
<path d="M145.70,333.80 L141.70,331.80 L141.70,335.80 Z" fill="#000"/>
<rect x="145.70" y="330.70" width="11.10" height="6.20" fill="#fff"/>
<path d="M161.80,333.80 L157.80,331.80 L157.80,335.80 Z" fill="#000"/>
<rect x="161.80" y="330.70" width="11.40" height="6.20" fill="#fff"/>
<path d="M178.00,333.80 L174.00,331.80 L174.00,335.80 Z" fill="#000"/>
<rect x="178.00" y="330.70" width="11.30" height="6.20" fill="#fff"/>
<path d="M194.30,333.80 L190.30,331.80 L190.30,335.80 Z" fill="#000"/>
<rect x="194.30" y="330.70" width="10.90" height="6.20" fill="#fff"/>
<text x="29.50" y="357.50" font-size="7.98" fill="#231f20" stroke="#231f20" stroke-width="0.18">Increasingly all layers MACs on-chip,</text>
<text x="29.50" y="366.50" font-size="7.85" fill="#231f20" stroke="#231f20" stroke-width="0.18">remaining layers in SW</text>
<text x="221.90" y="260.40" font-size="9.9" fill="#000" font-weight="bold" stroke="#000" stroke-width="0.18">d</text>
<text x="234.80" y="269.30" font-size="8.0" fill="#231f20" stroke="#231f20" stroke-width="0.18">Weight-expansion method</text>
<text x="353.60" y="269.50" font-size="8.6" fill="#231f20" font-style="italic" stroke="#231f20" stroke-width="0.18">y</text>
<text x="360.90" y="269.50" font-size="8.6" fill="#231f20" stroke="#231f20" stroke-width="0.18">=</text>
<text x="388.80" y="269.50" font-size="8.6" fill="#ff0000" font-style="italic" stroke="#ff0000" stroke-width="0.18">W</text>
<text x="396.70" y="272.50" font-size="6.3" fill="#ff0000" font-weight="bold" stroke="#ff0000" stroke-width="0.18">x</text>
<text x="403.80" y="269.50" font-size="8.6" fill="#333" stroke="#333" stroke-width="0.18">×</text>
<text x="411.30" y="269.50" font-size="8.6" fill="#f7941d" font-weight="bold" stroke="#f7941d" stroke-width="0.18">x</text>
<text x="418.60" y="269.50" font-size="8.6" fill="#333" stroke="#333" stroke-width="0.18">=</text>
<text x="435.50" y="269.50" font-size="8.6" fill="#ff0000" font-style="italic" stroke="#ff0000" stroke-width="0.18">W</text>
<text x="443.40" y="272.50" font-size="6.3" fill="#ff0000" font-weight="bold" stroke="#ff0000" stroke-width="0.18">x</text>
<text x="450.40" y="269.50" font-size="8.6" fill="#333" stroke="#333" stroke-width="0.18">×</text>
<text x="458.20" y="269.50" font-size="8.6" fill="#3434b2" stroke="#3434b2" stroke-width="0.18">pinv(</text>
<text x="476.40" y="269.50" font-size="9.3" fill="#3434b2" font-style="italic" stroke="#3434b2" stroke-width="0.18">M</text>
<text x="484.80" y="269.50" font-size="8.6" fill="#3434b2" stroke="#3434b2" stroke-width="0.18">)</text>
<text x="490.90" y="269.50" font-size="8.6" fill="#3434b2" stroke="#3434b2" stroke-width="0.18">×</text>
<text x="498.50" y="269.50" font-size="9.3" fill="#3434b2" font-style="italic" stroke="#3434b2" stroke-width="0.18">M</text>
<text x="509.90" y="269.50" font-size="8.6" fill="#333" stroke="#333" stroke-width="0.18">×</text>
<text x="517.60" y="269.50" font-size="8.6" fill="#f7941d" font-weight="bold" stroke="#f7941d" stroke-width="0.18">x</text>
<text x="534.00" y="269.90" font-size="8.6" fill="#333" stroke="#333" stroke-width="0.18">=</text>
<text x="547.60" y="269.90" font-size="8.6" fill="#2a86c2" font-style="italic" stroke="#2a86c2" stroke-width="0.18">W</text>
<text x="555.90" y="272.90" font-size="6.3" fill="#2a86c2" font-weight="bold" stroke="#2a86c2" stroke-width="0.18">x2</text>
<text x="566.40" y="269.90" font-size="8.6" fill="#333" stroke="#333" stroke-width="0.18">×</text>
<text x="574.20" y="269.90" font-size="8.6" fill="#f7a14a" stroke="#f7a14a" stroke-width="0.18">x</text>
<text x="578.60" y="273.20" font-size="6.3" fill="#f7a14a" stroke="#f7a14a" stroke-width="0.18">2</text>
<polyline points="435.80,273.20 435.80,275.30 487.00,275.30 487.00,273.20" stroke="#444" stroke-width="0.8" fill="none"/>
<line x1="461.30" y1="275.30" x2="461.30" y2="278.40" stroke="#444" stroke-width="0.8"/>
<polyline points="497.20,273.20 497.20,275.30 520.60,275.30 520.60,273.20" stroke="#444" stroke-width="0.8" fill="none"/>
<line x1="508.60" y1="275.30" x2="508.60" y2="278.40" stroke="#444" stroke-width="0.8"/>
<text x="454.10" y="286.60" font-size="8.6" fill="#3a8fc4" font-style="italic" stroke="#3a8fc4" stroke-width="0.18">W</text>
<text x="462.00" y="289.90" font-size="5.8" fill="#3a8fc4" font-weight="bold" stroke="#3a8fc4" stroke-width="0.18">x2</text>
<text x="504.90" y="286.60" font-size="8.6" fill="#f7941d" font-weight="bold" stroke="#f7941d" stroke-width="0.18">x</text>
<text x="509.80" y="289.90" font-size="6.3" fill="#f7941d" stroke="#f7941d" stroke-width="0.18">2</text>
<polyline points="371.50,319.80 371.50,286.50 251.40,286.50 251.40,306.80 258.00,306.80" stroke="#2371a6" stroke-width="0.8" fill="none"/>
<path d="M261.20,306.80 L257.20,305.10 L257.20,308.50 Z" fill="#2371a6"/>
<rect x="261.20" y="292.90" width="63.70" height="27.00" fill="#2b7bab"/>
<rect x="261.20" y="319.90" width="63.70" height="16.70" fill="#ff0000"/>
<text x="269.40" y="308.50" font-size="9" fill="#fff" font-style="italic">W</text>
<text x="277.20" y="311.40" font-size="6.0" fill="#fff" font-style="italic">h</text>
<text x="282.30" y="311.40" font-size="6.0" fill="#fff">1,024 × 4,096</text>
<text x="269.40" y="329.70" font-size="9" fill="#fff" font-style="italic">W</text>
<text x="277.20" y="332.60" font-size="6.0" fill="#fff" font-weight="bold">x</text>
<text x="282.00" y="332.60" font-size="6.0" fill="#fff">240 × 4,096</text>
<line x1="236.70" y1="328.00" x2="258.00" y2="328.00" stroke="#f7941d" stroke-width="0.8"/>
<path d="M261.20,328.00 L257.20,326.30 L257.20,329.70 Z" fill="#f7941d"/>
<text x="224.60" y="340.10" font-size="8.5" fill="#f7a14a" font-weight="bold" stroke="#f7a14a" stroke-width="0.18">x</text>
<text x="257.60" y="340.10" font-size="8.5" fill="#f7a14a" text-anchor="end" stroke="#f7a14a" stroke-width="0.18">[240,1]</text>
<text x="257.60" y="349.90" font-size="8.5" fill="#f7a14a" text-anchor="end" stroke="#f7a14a" stroke-width="0.18">vector</text>
<polyline points="293.00,336.60 293.00,349.50 329.20,349.50 329.20,319.80 335.00,319.80" stroke="#2371a6" stroke-width="0.8" fill="none"/>
<path d="M338.80,319.80 L334.80,318.10 L334.80,321.50 Z" fill="#2371a6"/>
<rect x="338.80" y="293.10" width="25.00" height="53.50" fill="#d9d9d9"/>
<text x="354.40" y="320.00" font-size="8.6" fill="#222" text-anchor="middle" transform="rotate(-90 354.40 320.00)" stroke="#222" stroke-width="0.18">Digital</text>
<line x1="363.80" y1="319.80" x2="383.00" y2="319.80" stroke="#2371a6" stroke-width="0.8"/>
<path d="M386.80,319.80 L382.80,318.10 L382.80,321.50 Z" fill="#2371a6"/>
<line x1="395.30" y1="325.40" x2="414.50" y2="325.40" stroke="#111" stroke-width="1.2"/>
<path d="M419.60,325.40 L414.10,323.10 L414.10,327.70 Z" fill="#111"/>
<text x="418.40" y="312.60" font-size="8.4" fill="#f7a14a" font-weight="bold" stroke="#f7a14a" stroke-width="0.18">x</text>
<text x="450.90" y="312.60" font-size="8.5" fill="#f7a14a" text-anchor="end" stroke="#f7a14a" stroke-width="0.18">[240,1]</text>
<text x="450.90" y="322.60" font-size="8.5" fill="#f7a14a" text-anchor="end" stroke="#f7a14a" stroke-width="0.18">vector</text>
<rect x="454.50" y="293.10" width="51.40" height="58.80" fill="#d9d9d9"/>
<text x="480.10" y="301.10" font-size="7.6" fill="#222" text-anchor="middle" stroke="#222" stroke-width="0.18">Digital</text>
<text x="480.10" y="308.60" font-size="7.6" fill="#222" text-anchor="middle" stroke="#222" stroke-width="0.18">preprocessing</text>
<line x1="434.00" y1="328.20" x2="455.50" y2="328.20" stroke="#f7941d" stroke-width="0.8"/>
<path d="M459.20,328.20 L455.20,326.50 L455.20,329.90 Z" fill="#f7941d"/>
<rect x="459.10" y="319.70" width="43.10" height="16.90" fill="#f89b3a"/>
<text x="461.00" y="330.60" font-size="9" fill="#fff" font-style="italic">M</text>
<text x="469.20" y="333.40" font-size="6.0" fill="#fff">240 × 1,024</text>
<polyline points="480.20,336.60 480.20,348.00 519.60,348.00 519.60,331.20 525.00,331.20" stroke="#f7941d" stroke-width="0.8" fill="none"/>
<path d="M528.80,331.20 L524.80,329.50 L524.80,332.90 Z" fill="#f7941d"/>
<text x="517.40" y="323.70" font-size="8.5" fill="#f7a14a" font-weight="bold" stroke="#f7a14a" stroke-width="0.18">x</text>
<text x="522.30" y="327.00" font-size="6.0" fill="#f7a14a" stroke="#f7a14a" stroke-width="0.18">2</text>
<polyline points="639.60,319.80 639.60,286.90 518.80,286.90 518.80,306.00 525.00,306.00" stroke="#2371a6" stroke-width="0.8" fill="none"/>
<path d="M529.00,306.00 L525.00,304.30 L525.00,307.70 Z" fill="#2371a6"/>
<rect x="529.00" y="293.00" width="63.50" height="27.00" fill="#2b7bab"/>
<rect x="529.00" y="320.00" width="63.50" height="21.90" fill="#0e6399"/>
<text x="533.60" y="308.20" font-size="9" fill="#fff" font-style="italic">W</text>
<text x="541.40" y="311.10" font-size="6.0" fill="#fff" font-style="italic">h</text>
<text x="546.90" y="311.00" font-size="6.0" fill="#fff">1,024 × 4,096</text>
<text x="533.60" y="333.00" font-size="9" fill="#fff" font-style="italic">W</text>
<text x="541.40" y="335.60" font-size="6.0" fill="#fff" font-weight="bold">x2</text>
<text x="550.20" y="335.40" font-size="6.0" fill="#fff">1,024 × 4,096</text>
<polyline points="560.60,341.90 560.60,348.10 596.80,348.10 596.80,319.80 602.00,319.80" stroke="#2371a6" stroke-width="0.8" fill="none"/>
<path d="M606.00,319.80 L602.00,318.10 L602.00,321.50 Z" fill="#2371a6"/>
<rect x="606.00" y="292.90" width="24.80" height="53.60" fill="#d9d9d9"/>
<text x="621.60" y="320.00" font-size="8.6" fill="#222" text-anchor="middle" transform="rotate(-90 621.60 320.00)" stroke="#222" stroke-width="0.18">Digital</text>
<line x1="630.80" y1="319.80" x2="651.00" y2="319.80" stroke="#2371a6" stroke-width="0.8"/>
<path d="M655.00,319.80 L651.00,318.10 L651.00,321.50 Z" fill="#2371a6"/>
</svg></body></html>
